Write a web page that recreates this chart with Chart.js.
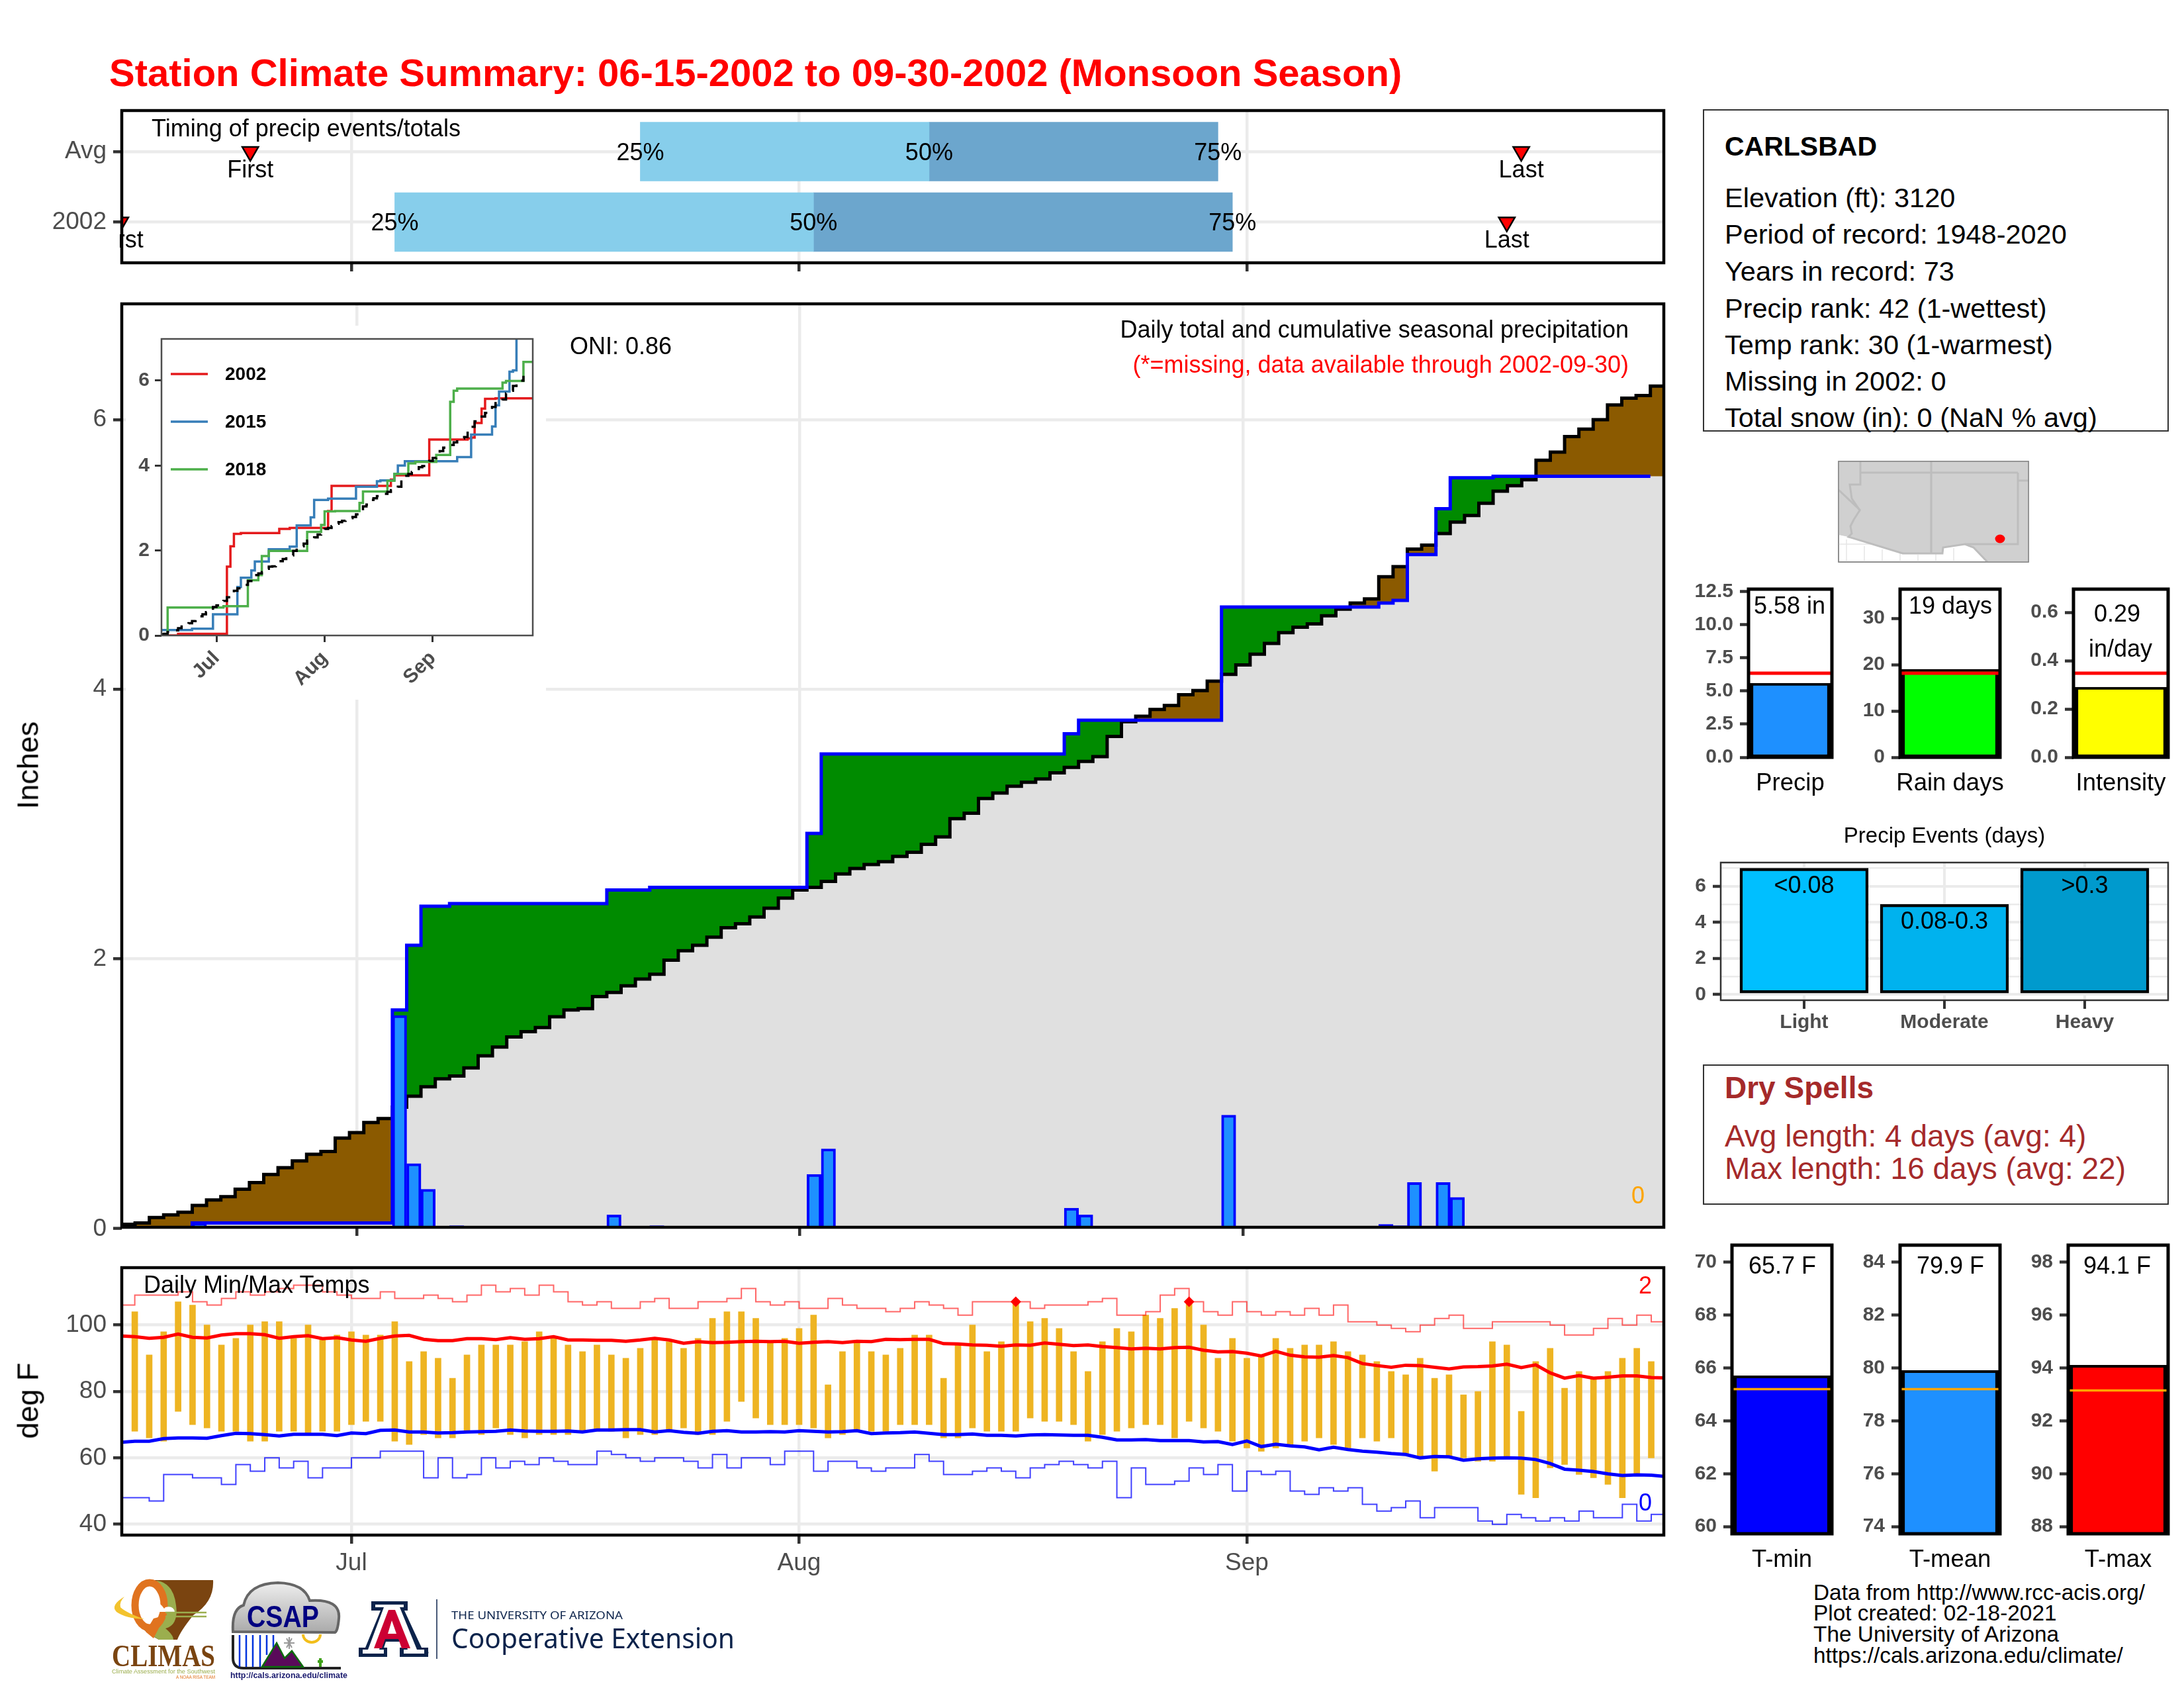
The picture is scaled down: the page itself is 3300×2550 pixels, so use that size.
<!DOCTYPE html>
<html><head><meta charset="utf-8">
<script src="https://cdn.jsdelivr.net/npm/chart.js@4"></script>
<style>
html,body{margin:0;padding:0;background:#fff;width:3300px;height:2550px;overflow:hidden}
#root{position:relative;width:3300px;height:2550px;font-family:"Liberation Sans",sans-serif}
canvas{position:absolute;display:block}
.t{position:absolute;white-space:nowrap;line-height:1}
.box{position:absolute;border:2.5px solid #333;box-sizing:border-box}
svg{position:absolute;left:0;top:0}
</style></head><body><div id="root"></div>
<script>
/* ---------- DATA ---------- */
const monthTicks=[16,47,78];
const monthLabels=['Jul','Aug','Sep'];
const climCum=[0.03,0.04,0.08,0.10,0.12,0.17,0.21,0.235,0.29,0.34,0.40,0.45,0.50,0.55,0.57,0.67,0.71,0.785,0.815,0.90,0.98,1.05,1.11,1.13,1.19,1.28,1.345,1.42,1.46,1.49,1.57,1.62,1.63,1.72,1.75,1.80,1.85,1.885,1.99,2.06,2.10,2.16,2.23,2.26,2.31,2.375,2.45,2.51,2.53,2.575,2.63,2.67,2.70,2.72,2.76,2.79,2.85,2.905,3.04,3.08,3.19,3.23,3.28,3.31,3.335,3.38,3.42,3.465,3.50,3.65,3.76,3.80,3.85,3.88,3.96,3.99,4.06,4.11,4.18,4.26,4.34,4.42,4.46,4.485,4.545,4.595,4.64,4.67,4.835,4.91,5.04,5.07,5.155,5.24,5.29,5.38,5.47,5.51,5.555,5.70,5.76,5.875,5.93,6.00,6.11,6.16,6.18,6.25];
const daily2002=[0,0,0,0,0,0.04,0,0,0,0,0,0,0,0,0,0,0,0,0,1.58,0.48,0.29,0,0.02,0,0,0,0,0,0,0,0,0,0,0.10,0,0,0.02,0,0,0,0,0,0,0,0,0,0,0.40,0.59,0,0,0,0,0,0,0,0,0,0,0,0,0,0,0,0,0.15,0.10,0,0,0,0,0,0,0,0,0,0.84,0,0,0,0,0,0,0,0,0,0,0.03,0.02,0.34,0,0.34,0.23,0,0,0.01,0,0,0,0,0,0,0,0,0,0,0];
const cum2015=[0.13,0.13,0.13,0.13,0.13,0.13,0.13,0.13,0.13,0.16,0.16,0.16,0.16,0.16,0.16,0.50,0.50,0.50,0.50,0.50,0.50,0.50,1.14,1.36,1.36,1.36,1.53,1.74,1.74,1.74,1.74,2.03,2.03,2.03,2.03,2.03,2.03,2.09,2.09,2.59,2.59,2.59,2.59,2.78,3.19,3.19,3.19,3.19,3.22,3.22,3.22,3.22,3.22,3.22,3.22,3.22,3.50,3.50,3.50,3.50,3.50,3.50,3.63,3.65,3.65,3.65,3.65,3.80,4.00,4.00,4.10,4.10,4.10,4.10,4.10,4.10,4.10,4.10,4.10,4.10,4.10,4.10,4.10,4.10,4.10,4.20,4.20,4.20,4.20,4.73,4.73,4.73,4.73,4.73,4.73,4.92,5.42,5.74,5.74,5.74,6.21,6.24,7.2,7.2,7.2,7.2,7.2,7.2];
const cum2018=[0.01,0.01,0.66,0.66,0.66,0.66,0.66,0.66,0.66,0.66,0.66,0.66,0.66,0.66,0.66,0.66,0.66,0.66,0.69,0.69,0.69,0.69,0.69,0.69,0.69,1.30,1.30,1.30,1.42,1.87,1.87,1.99,1.99,1.99,1.99,1.99,1.99,1.99,1.99,1.99,1.99,1.99,2.44,2.44,2.44,2.44,2.60,2.92,2.92,2.92,2.93,2.93,2.93,2.93,2.93,2.93,2.93,3.12,3.39,3.39,3.39,3.39,3.39,3.39,3.39,3.64,3.64,3.80,3.80,3.80,3.80,4.05,4.05,4.085,4.085,4.085,4.085,4.085,4.085,4.25,4.25,4.25,4.25,5.50,5.76,5.81,5.81,5.81,5.81,5.81,5.81,5.81,5.81,5.81,5.81,5.81,5.81,5.81,5.95,5.99,5.99,5.99,5.99,5.99,6.44,6.44,6.44,6.44];
const tHigh=[104,91,98,107,106,100,94,96,100,101,101,96,100,96,97,98,97,97,101,89,92,90,84,91,94,94,94,95,98,96,94,92,94,91,90,93,96,95,93,96,102,104,104,102,95,96,99,103,82,92,95,92,91,93,97,97,84,94,100,92,95,107,101,102,99,92,86,95,99,98,103,102,105,107,100,90,96,90,91,96,93,94,94,95,92,91,89,86,85,90,84,85,79,80,95,94,74,89,93,81,86,84,86,90,93,89];
const tLow=[68,66,65,74,70,69,68,68,65,65,68,68,67,68,68,70,71,71,65,64,67,66,66,68,67,69,67,66,67,67,67,68,68,68,66,67,67,68,69,67,67,71,77,72,70,70,70,69,66,67,68,68,68,70,70,70,66,66,69,68,68,68,72,71,71,70,65,67,68,69,70,70,66,71,69,68,65,63,62,63,64,65,66,64,63,66,65,66,61,60,56,60,60,59,59,60,49,48,57,58,55,54,52,48,55,60];
const avgMax=[96.7,96.5,96,96.3,97.3,96.3,96.1,97,97.4,97.4,97.1,96,96.5,96.8,95.9,96.2,95.5,95.1,96,96.7,96.9,95.7,95.3,95.3,95.9,95.9,95.6,96.2,95.7,95.9,96.5,95.5,95.5,95.4,95.4,95.1,95.5,96,95.5,94.5,95,94.7,94.8,95,95.1,95,95.1,94.5,94.8,95,94.7,95.1,95,95.7,95.6,95.7,95.7,94.4,94.3,94,93.9,93.6,94,93.9,94.6,94.2,93.8,94,93.5,93.2,92.8,93,92.8,93.2,93.3,92.4,91.9,92,91.5,90.7,92.1,90.9,90.4,90.3,90.8,90.2,88.4,87.8,87.3,87.9,87.8,87.3,86.8,87.4,87.5,87.7,88.2,87.2,88,85.6,84,84.8,84,84.3,84.7,84.7,84.2,84.1];
const avgMin=[64.7,65,65,65.8,66,66,65.9,66.7,67.4,67.3,67,66.6,67.1,67.1,67.1,66.7,67.5,67.3,68.3,68.4,67.8,67.8,67.5,67.6,67.8,67.9,68,68.4,68.1,68,68,68.1,67.8,68.4,68.4,68.5,68.5,67.8,68.2,67.7,67.4,68,68.2,67.8,67.8,67.9,67.8,68.2,68,67.8,67.9,68.2,67.3,67.5,67.6,67.8,67.4,67,67,67.2,66.8,66.8,66.6,66.9,67,66.9,66.8,66.8,66.2,65.4,65.4,65.5,65.2,65.2,65.2,64.8,64.9,64,65.1,63.4,64.1,63.6,63.3,62.4,63.2,62.5,62,61.7,61.3,61,60,60.4,60.3,59.3,59.7,59.9,60,59.9,59.5,58.3,56.6,56.3,55.9,55.2,54.7,54.9,54.8,54.4];
const recHigh=[106,109,109,109,110,107,106,108,110,109,110,111,112,112,110,109,108,108,110,108,108,109,108,107,109,112,110,111,109,112,110,107,106,107,105,105,107,108,105,105,107,107,108,111,107,106,107,105,105,108,106,105,105,104,105,107,106,105,103,107,107,107,107,105,106,106,106,107,108,103,103,104,109,111,107,104,103,107,104,103,104,103,105,103,106,101,101,100,99,98,100,102,103,99,99,101,101,101,101,100,97,97,99,102,100,103,101];
const recLow=[48,48,47,55,55,54,54,52,58,56,60,57,59,54,57,57,60,60,62,62,62,54,60,54,55,60,57,59,58,60,59,58,58,62,61,60,59,60,60,59,57,61,57,60,60,58,62,62,56,59,59,57,56,57,57,61,59,55,55,56,57,56,54,57,58,59,58,57,59,48,57,52,52,53,57,55,58,50,56,55,56,50,49,51,50,51,46,44,45,47,42,45,45,45,41,40,43,42,41,42,41,44,42,42,46,41,43];
const timingRows=['2002','Avg'];
const q25=[19,36], q50=[48,56], q75=[77,76];
const firstDay=[0,9], lastDay=[96,97];
const smallBars={
 precip:{label:'Precip',value:5.58,avg:6.34},
 rain:{label:'Rain days',value:19,avg:18.15},
 intensity:{label:'Intensity',value:0.29,avg:0.348},
 tmin:{label:'T-min',value:65.7,avg:65.2},
 tmean:{label:'T-mean',value:79.9,avg:79.2},
 tmax:{label:'T-max',value:94.1,avg:93.15}};
const eventCats=['Light','Moderate','Heavy'];
const eventVals=[7,5,7];
const eventTags=['<0.08','0.08-0.3','>0.3'];

/* ---------- HELPERS ---------- */
const FF='"Liberation Sans"';
Chart.defaults.font.family=FF;
Chart.defaults.animation=false;
const root=document.getElementById('root');
const INK='#4D4D4D', GRID='#EBEBEB', TICKSIZE=37;
function txt(s,x,y,o={}){const d=document.createElement('div');d.className='t';d.textContent=s;
 d.style.left=x+'px';d.style.top=(y+1)+'px';d.style.fontSize=(o.size||36)+'px';
 d.style.color=o.color||'#000';if(o.bold)d.style.fontWeight='bold';
 const tx=o.anchor==='middle'?'-50%':o.anchor==='end'?'-100%':'0';
 d.style.transform=`translate(${tx},-50%)`+(o.rot?` rotate(${o.rot}deg)`:'');
 root.appendChild(d);return d;}
function box(x0,y0,x1,y1){const d=document.createElement('div');d.className='box';
 d.style.cssText+=`left:${x0}px;top:${y0}px;width:${x1-x0}px;height:${y1-y0}px`;root.appendChild(d);}
function frame(w,c){return {id:'frame',afterDatasetsDraw(ch){const a=ch.chartArea,x=ch.ctx;x.save();x.lineWidth=w;x.strokeStyle=c;x.strokeRect(a.left,a.top,a.right-a.left,a.bottom-a.top);x.restore();}};}
function mk(p,M,cfg){const c=document.createElement('canvas');
 const W=p.x1-p.x0+M.l+M.r,H=p.y1-p.y0+M.t+M.b;c.width=W;c.height=H;
 c.style.left=(p.x0-M.l)+'px';c.style.top=(p.y0-M.t)+'px';c.style.width=W+'px';c.style.height=H+'px';root.appendChild(c);
 const o=cfg.options=cfg.options||{};o.responsive=false;o.devicePixelRatio=1;o.animation=false;
 o.layout={padding:{left:0,top:M.t,right:M.r,bottom:0}};
 o.plugins=Object.assign({legend:{display:false},tooltip:{enabled:false}},o.plugins||{});
 o.scales.x.afterFit=s=>{s.height=M.b};o.scales.y.afterFit=s=>{s.width=M.l};
 return new Chart(c,cfg);}
const setTicks=a=>s=>{s.ticks=a.map(v=>({value:v}))};
const monthAxis=(min,max,labelled)=>({type:'linear',min,max,offset:false,afterBuildTicks:setTicks(monthTicks),
 grid:{color:GRID,lineWidth:4.5,tickColor:'#333',tickWidth:4.5,tickLength:13,offset:false},border:{display:false},
 ticks:{autoSkip:false,maxRotation:0,minRotation:0,padding:8,color:INK,font:{size:TICKSIZE},callback:v=>labelled?monthLabels[monthTicks.indexOf(v)]:''}});
const pts=(a,dx=0)=>a.map((y,i)=>({x:i+dx,y})).concat([{x:a.length+dx,y:a[a.length-1]}]);
const cum2002=(()=>{let s=0;return daily2002.map(v=>+(s+=v).toFixed(3));})();
const lowerEnv=climCum.map((v,i)=>Math.min(v,cum2002[i]));

/* ---------- TEXT + BOXES ---------- */
txt('Station Climate Summary: 06-15-2002 to 09-30-2002 (Monsoon Season)',165,109,{size:58,bold:true,color:'#FF0000'});

/* ---------- TIMING PANEL ---------- */
mk({x0:184,y0:167,x1:2514,y1:397},{l:130,t:50,r:40,b:40},{type:'bar',data:{datasets:[
 {type:'line',showLine:false,data:firstDay.map((x,i)=>({x,y:i})),pointStyle:'triangle',rotation:180,radius:14,backgroundColor:'#FF0000',borderColor:'#000',borderWidth:2.5,order:1},
 {type:'line',showLine:false,data:lastDay.map((x,i)=>({x,y:i})),pointStyle:'triangle',rotation:180,radius:14,backgroundColor:'#FF0000',borderColor:'#000',borderWidth:2.5,order:1},
 {data:q25.map((v,i)=>({x:[v,q50[i]],y:i})),backgroundColor:'#87CEEB',barThickness:89,grouped:false,order:3},
 {data:q50.map((v,i)=>({x:[v,q75[i]],y:i})),backgroundColor:'#6CA6CD',barThickness:89,grouped:false,order:3}
]},options:{indexAxis:'y',scales:{
 x:monthAxis(0.1,106.87,false),
 y:{type:'linear',min:-0.577,max:1.582,offset:false,afterBuildTicks:setTicks([0,1]),grid:{color:GRID,lineWidth:4.5,tickColor:'#333',tickWidth:4.5,tickLength:13,offset:false},border:{display:false},
  ticks:{autoSkip:false,padding:10,color:INK,font:{size:TICKSIZE},callback:v=>timingRows[v]}}}},
 plugins:[{id:'lab',afterDatasetsDraw(ch){const c=ch.ctx,sx=ch.scales.x,sy=ch.scales.y,a=ch.chartArea;c.save();
   c.beginPath();c.rect(a.left-3,a.top,a.right-a.left+3,a.bottom-a.top);c.clip();
   c.font='36px '+FF;c.fillStyle='#000';c.textAlign='center';c.textBaseline='middle';
   timingRows.forEach((r,i)=>{const y=sy.getPixelForValue(i);
     [[q25,'25%'],[q50,'50%'],[q75,'75%']].forEach(([q,s])=>c.fillText(s,sx.getPixelForValue(q[i]),y+3));
     c.fillText('First',sx.getPixelForValue(firstDay[i]),y+29);c.fillText('Last',sx.getPixelForValue(lastDay[i]),y+29);});
   c.restore();}},frame(4.5,'#000')]});
txt('Timing of precip events/totals',229,193);

/* ---------- MAIN PRECIP PANEL ---------- */
const mainM={l:130,t:50,r:40,b:40};
mk({x0:184,y0:459,x1:2514,y1:1854},mainM,{type:'bar',data:{datasets:[
 {type:'line',data:pts(lowerEnv,-0.5),stepped:'before',fill:'origin',backgroundColor:'#E0E0E0',borderWidth:0,pointRadius:0,order:10},
 {type:'line',data:pts(climCum,-0.5),stepped:'before',fill:false,borderColor:'#000',borderWidth:5,pointRadius:0,order:4},
 {type:'line',data:pts(cum2002,-0.5),stepped:'before',fill:{target:1,above:'#008B00',below:'#8B5A00'},borderColor:'transparent',borderWidth:0,pointRadius:0,order:9},
 {type:'line',data:pts(cum2002.slice(0,107),-0.5),stepped:'before',fill:false,borderColor:'#0000FF',borderWidth:5,pointRadius:0,order:1},
 {data:daily2002.map((v,i)=>({x:i,y:v>0?v:null})),backgroundColor:'#1E90FF',borderColor:'#0000FF',borderWidth:4,borderSkipped:false,barThickness:21.6,grouped:false,order:2}
]},options:{plugins:{filler:{drawTime:'beforeDatasetsDraw'}},scales:{
 x:monthAxis(-0.43,107.44,false),
 y:{type:'linear',min:0.008,max:6.86,afterBuildTicks:setTicks([2,4,6]),grid:{color:GRID,lineWidth:4.5,tickColor:'#333',tickWidth:4.5,tickLength:13},border:{display:false},
  ticks:{autoSkip:false,padding:10,color:INK,font:{size:TICKSIZE},callback:v=>String(v)}}}},
 plugins:[{id:'wipe',beforeDatasetsDraw(ch){const c=ch.ctx;c.save();c.fillStyle='#fff';
   const ox=184-mainM.l,oy=459-mainM.t;c.fillRect(190-ox,492-oy,825-190,1057-492);c.restore();},
  afterDatasetsDraw(ch){const c=ch.ctx,y=ch.scales.y.getPixelForValue(0),l=ch.chartArea.left;c.save();
   c.strokeStyle='#333';c.lineWidth=4.5;c.beginPath();c.moveTo(l-13,y);c.lineTo(l,y);c.stroke();
   c.fillStyle=INK;c.font=TICKSIZE+'px '+FF;c.textAlign='right';c.textBaseline='middle';c.fillText('0',l-23,y+1);c.restore();}},frame(4.5,'#000')]});

/* ---------- INSET ---------- */
const insetLegend=[['2002','#E41A1C',565],['2015','#377EB8',637],['2018','#4DAF4A',709]];
const insetM={l:70,t:40,r:20,b:90};
mk({x0:244,y0:512,x1:805,y1:960},insetM,{type:'line',data:{datasets:[
 {label:'2002',data:pts(cum2002),stepped:'before',borderColor:'#E41A1C',borderWidth:3.5,pointRadius:0,order:4},
 {label:'2015',data:pts(cum2015),stepped:'before',borderColor:'#377EB8',borderWidth:3.5,pointRadius:0,order:3},
 {label:'2018',data:pts(cum2018),stepped:'before',borderColor:'#4DAF4A',borderWidth:3.5,pointRadius:0,order:2},
 {label:'avg',data:climCum.slice(0,105).map((y,i)=>({x:i,y})),stepped:'before',borderColor:'#000',borderWidth:3.5,borderDash:[16,13],pointRadius:0,order:1}
]},options:{scales:{
 x:{type:'linear',min:0.24,max:106.67,afterBuildTicks:setTicks(monthTicks),grid:{drawOnChartArea:false,tickColor:'#333',tickWidth:3,tickLength:10},border:{display:false},
  ticks:{autoSkip:false,minRotation:45,maxRotation:45,padding:7,color:INK,font:{size:30,weight:'bold'},callback:v=>monthLabels[monthTicks.indexOf(v)]}},
 y:{type:'linear',min:0,max:6.98,afterBuildTicks:setTicks([0,2,4,6]),grid:{drawOnChartArea:false,tickColor:'#333',tickWidth:3,tickLength:10},border:{display:false},
  ticks:{autoSkip:false,padding:8,color:INK,font:{size:30,weight:'bold'},callback:v=>String(v)}}}},
 plugins:[{id:'leg',afterDatasetsDraw(ch){const c=ch.ctx,ox=244-insetM.l,oy=512-insetM.t;c.save();
   insetLegend.forEach(([s,col,y])=>{c.strokeStyle=col;c.lineWidth=3.5;c.beginPath();c.moveTo(258-ox,y-oy);c.lineTo(314-ox,y-oy);c.stroke();
    c.fillStyle='#000';c.font='bold 28px '+FF;c.textBaseline='middle';c.fillText(s,340-ox,y-oy+1);});c.restore();}},frame(2.5,'#4D4D4D')]});
txt('ONI: 0.86',861,522);
txt('Daily total and cumulative seasonal precipitation',2461,497,{anchor:'end'});
txt('(*=missing, data available through 2002-09-30)',2461,550,{anchor:'end',color:'#FF0000'});
txt('0',2475,1805,{anchor:'middle',color:'#FFA500'});
txt('Inches',42,1155,{size:45,anchor:'middle',rot:-90});

/* ---------- TEMPERATURE PANEL ---------- */
const rec=tHigh.map((v,i)=>v>=recHigh[i+1]?{x:i+1,y:recHigh[i+1]}:null).filter(Boolean);
const thick=a=>a.map((y,i)=>({x:i,y}));
mk({x0:184,y0:1915,x1:2514,y1:2319},{l:130,t:50,r:40,b:70},{type:'bar',data:{datasets:[
 {type:'line',data:rec,showLine:false,pointStyle:'rectRot',radius:8,backgroundColor:'#FF0000',borderWidth:0,order:1},
 {type:'line',data:thick(avgMax),borderColor:'#FF0000',borderWidth:5,pointRadius:0,order:2},
 {type:'line',data:thick(avgMin),borderColor:'#0000FF',borderWidth:5,pointRadius:0,order:2},
 {type:'line',data:pts(recHigh),stepped:'before',borderColor:'rgba(255,0,0,0.6)',borderWidth:2,pointRadius:0,order:3},
 {type:'line',data:pts(recLow),stepped:'before',borderColor:'rgba(0,0,255,0.75)',borderWidth:2,pointRadius:0,order:3},
 {data:tHigh.map((v,i)=>({x:i+1,y:[tLow[i],v]})),backgroundColor:'#EEB422',barThickness:9,grouped:false,order:4}
]},options:{scales:{
 x:monthAxis(0.1,106.87,true),
 y:{type:'linear',min:36.75,max:117.28,afterBuildTicks:setTicks([40,60,80,100]),grid:{color:GRID,lineWidth:4.5,tickColor:'#333',tickWidth:4.5,tickLength:13},border:{display:false},
  ticks:{autoSkip:false,padding:10,color:INK,font:{size:TICKSIZE},callback:v=>String(v)}}}},
 plugins:[frame(4.5,'#000')]});
txt('Daily Min/Max Temps',217,1940);
txt('2',2486,1941,{anchor:'middle',color:'#FF0000'});
txt('0',2486,2269,{anchor:'middle',color:'#0000FF'});
txt('deg F',42,2115,{size:45,anchor:'middle',rot:-90});

/* ---------- SMALL SUMMARY BARS ---------- */
function small(b,p,min,max,ticks,fmt,fill,lineCol,lineW,tags){
 const w=p.x1-p.x0,ml=110,mt=40;
 mk(p,{l:ml,t:mt,r:70,b:70},{type:'bar',data:{datasets:[
  {type:'line',data:[{x:-0.5,y:b.avg},{x:0.5,y:b.avg}],borderColor:lineCol,borderWidth:lineW,pointRadius:0,order:1},
  {data:[{x:0,y:b.value}],backgroundColor:fill,borderColor:'#000',borderWidth:{left:6,right:6,top:4,bottom:4},borderSkipped:false,barThickness:w-3,order:2}
 ]},options:{scales:{
  x:{type:'linear',min:-0.5,max:0.5,offset:false,afterBuildTicks:setTicks([0]),grid:{display:false,drawTicks:false,offset:false},border:{display:false},
   ticks:{autoSkip:false,maxRotation:0,minRotation:0,padding:18,color:'#000',font:{size:36.5},callback:()=>b.label}},
  y:{type:'linear',min,max,afterBuildTicks:setTicks(ticks),grid:{drawOnChartArea:false,tickColor:'#333',tickWidth:4.5,tickLength:13},border:{display:false},
   ticks:{autoSkip:false,padding:10,color:INK,font:{size:30,weight:'bold'},callback:fmt}}}},
  plugins:[{id:'tag',afterDatasetsDraw(ch){const c=ch.ctx,ox=p.x0-ml,oy=p.y0-mt;c.save();c.font='36px '+FF;c.fillStyle='#000';c.textAlign='center';c.textBaseline='middle';
    tags.forEach(([s,x,y])=>c.fillText(s,x-ox,y-oy+2));c.restore();}},frame(5,'#000')]});
}
const f1=v=>v.toFixed(1), f0=v=>String(v);
small(smallBars.precip,{x0:2642,y0:890,x1:2768,y1:1144},0,12.67,[0,2.5,5,7.5,10,12.5],f1,'#1E90FF','#FF0000',5,[['5.58 in',2704,915]]);
small(smallBars.rain,{x0:2871,y0:890,x1:3022,y1:1144},0,36.3,[0,10,20,30],f0,'#00FF00','#FF0000',5,[['19 days',2947,915]]);
small(smallBars.intensity,{x0:3133,y0:890,x1:3276,y1:1144},0,0.696,[0,0.2,0.4,0.6],f1,'#FFFF00','#FF0000',5,[['0.29',3199,927],['in/day',3204,980]]);
small(smallBars.tmin,{x0:2617,y0:1881,x1:2768,y1:2317},59.73,70.64,[60,62,64,66,68,70],f0,'#0000FF','#FFA500',3.5,[['65.7 F',2693,1912]]);
small(smallBars.tmean,{x0:2871,y0:1881,x1:3022,y1:2317},73.73,84.64,[74,76,78,80,82,84],f0,'#1E90FF','#FFA500',3.5,[['79.9 F',2947,1912]]);
small(smallBars.tmax,{x0:3125,y0:1881,x1:3276,y1:2317},87.73,98.64,[88,90,92,94,96,98],f0,'#FF0000','#FFA500',3.5,[['94.1 F',3199,1912]]);

/* ---------- PRECIP EVENTS ---------- */
const evP={x0:2600,y0:1303,x1:3276,y1:1511},evM={l:80,t:40,r:10,b:50};
mk(evP,evM,{type:'bar',data:{datasets:[
 {data:eventVals.map((v,i)=>({x:i,y:v})),backgroundColor:['#00BFFF','#00B2EE','#009ACD'],borderColor:'#000',borderWidth:4.5,borderSkipped:false,barThickness:194}
]},options:{scales:{
 x:{type:'linear',min:-0.594,max:2.594,offset:false,afterBuildTicks:setTicks([0,1,2]),grid:{color:GRID,lineWidth:4,tickColor:'#333',tickWidth:4,tickLength:13,offset:false},border:{display:false},
  ticks:{autoSkip:false,maxRotation:0,minRotation:0,padding:3,color:INK,font:{size:30,weight:'bold'},callback:v=>eventCats[v]}},
 y:{type:'linear',min:-0.32,max:7.316,afterBuildTicks:setTicks([0,1,2,3,4,5,6,7]),
  grid:{color:GRID,lineWidth:c=>c.tick&&c.tick.value%2===0?4:2.5,tickColor:c=>c.tick&&c.tick.value%2===0?'#333':'transparent',tickWidth:4.5,tickLength:12},border:{display:false},
  ticks:{autoSkip:false,padding:10,color:INK,font:{size:30,weight:'bold'},callback:v=>v%2===0?String(v):''}}}},
 plugins:[{id:'ev',afterDatasetsDraw(ch){const c=ch.ctx,sx=ch.scales.x,sy=ch.scales.y;c.save();c.font='36px '+FF;c.fillStyle='#000';c.textAlign='center';c.textBaseline='middle';
   eventTags.forEach((s,i)=>c.fillText(s,sx.getPixelForValue(i),sy.getPixelForValue(eventVals[i]-1)));c.restore();}},frame(2.5,'#333')]});
txt('Precip Events (days)',2938,1260,{size:33,anchor:'middle'});

/* ---------- INFO BOXES ---------- */
box(2573,165,3277,652);
txt('CARLSBAD',2606,220,{size:41,bold:true});
[['Elevation (ft): 3120',298],['Period of record: 1948-2020',353],['Years in record: 73',409],['Precip rank: 42 (1-wettest)',465],['Temp rank: 30 (1-warmest)',520],['Missing in 2002: 0',575],['Total snow (in): 0 (NaN % avg)',630]]
 .forEach(([s,y])=>txt(s,2606,y,{size:41.5}));
box(2573,1608,3277,1820);
txt('Dry Spells',2606,1642,{size:46,bold:true,color:'#A52A2A'});
txt('Avg length: 4 days (avg: 4)',2606,1715,{size:46,color:'#A52A2A'});
txt('Max length: 16 days (avg: 22)',2606,1764,{size:46,color:'#A52A2A'});
[['Data from http://www.rcc-acis.org/',2405],['Plot created: 02-18-2021',2436],['The University of Arizona',2468],['https://cals.arizona.edu/climate/',2500]]
 .forEach(([s,y])=>txt(s,2740,y,{size:33.4}));

/* ---------- MAP + LOGOS (decorative, not data) ---------- */
const NS='http://www.w3.org/2000/svg';
const holder=document.createElement('div');
holder.innerHTML=`<svg xmlns="${NS}" width="3300" height="2550" viewBox="0 0 3300 2550" style="pointer-events:none">
<g>
<rect x="2778" y="697" width="287" height="152" fill="#fff" stroke="#888" stroke-width="1.5"/>
<g stroke="#e6e6e6" stroke-width="1.5"><line x1="2778" y1="822" x2="2980" y2="822"/><line x1="2790" y1="815" x2="2790" y2="849"/><line x1="2817" y1="825" x2="2817" y2="849"/><line x1="2844" y1="830" x2="2844" y2="849"/><line x1="2871" y1="835" x2="2871" y2="849"/><line x1="2898" y1="838" x2="2898" y2="849"/><line x1="2925" y1="835" x2="2925" y2="849"/><line x1="2952" y1="828" x2="2952" y2="849"/></g>
<polygon points="2778,697 3065,697 3065,849 3003,849 2982,827 2969,822 2936,827 2935,836 2875,836 2793,811 2778,808" fill="#D0D0D0"/>
<g fill="none" stroke="#BDBDBD" stroke-width="3">
<polyline points="2811,697 2811,732 2795,732 2798,753 2810,771 2801,785 2796,795 2798,806 2793,811 2875,836 2935,836 2936,827 2969,822 2982,827 3003,849"/>
<polyline points="2778,740 2811,771"/><polyline points="2918,697 2918,836"/><polyline points="2811,714 3049,714"/><polyline points="3049,714 3049,822 2969,822"/><polyline points="3049,726 3065,726"/>
</g>
<ellipse cx="3022" cy="814" rx="7.5" ry="6.5" fill="#FF0000"/>
<rect x="2778" y="697" width="287" height="152" fill="none" stroke="#888" stroke-width="1.5"/>
</g>
<g>
<path d="M232,2387 H322 Q324,2420 292,2440 Q272,2465 268,2477 H240 Q196,2455 202,2420 Q206,2395 232,2387Z" fill="#7A4410"/>
<path d="M238,2388 Q262,2392 266,2425 Q270,2455 250,2460 Q262,2470 262,2477 H240 Q192,2450 204,2412 Q212,2392 238,2388Z" fill="#9BAE4E"/>
<ellipse cx="226" cy="2425" rx="22" ry="34" fill="#fff" stroke="#E0731F" stroke-width="11"/>
<path d="M188,2412 Q166,2425 176,2435 Q190,2445 218,2446 Q190,2436 182,2428 Q180,2420 188,2412Z" fill="#F3C32E"/>
<path d="M232,2445 L250,2440 L232,2475 L220,2465Z" fill="#E0731F"/>
<path d="M248,2430 Q240,2418 232,2422 Q224,2416 222,2435 H264 Q262,2425 250,2428Z" fill="#fff"/>
<path d="M250,2436 H312 M250,2442 H312" stroke="#9BAE4E" stroke-width="2.5"/>
<text x="169" y="2517" font-family="Liberation Serif" font-weight="bold" font-size="46" fill="#7A4410" textLength="156" lengthAdjust="spacingAndGlyphs">CLIMAS</text>
<text x="169" y="2528" font-family="Liberation Sans" font-size="9" fill="#9BAE4E" textLength="156" lengthAdjust="spacingAndGlyphs">Climate Assessment for the Southwest</text>
<text x="266" y="2536" font-family="Liberation Sans" font-size="7" fill="#E0731F" textLength="59" lengthAdjust="spacingAndGlyphs">A NOAA RISA TEAM</text>
</g>
<g>
<defs><linearGradient id="cg" x1="0" y1="0" x2="0" y2="1"><stop offset="0" stop-color="#eee"/><stop offset="1" stop-color="#aaa"/></linearGradient></defs>
<path d="M352,2465 Q350,2430 368,2425 Q375,2392 420,2391 Q460,2392 468,2418 Q515,2415 512,2445 Q510,2467 505,2466 Z" fill="url(#cg)" stroke="#666" stroke-width="4"/>
<text x="373" y="2458" font-family="Liberation Sans" font-weight="bold" font-size="46" fill="#000080" textLength="109" lengthAdjust="spacingAndGlyphs">CSAP</text>
<path d="M352,2470 V2505 Q352,2520 368,2520 H515" fill="none" stroke="#222" stroke-width="4"/>
<path d="M362,2470 V2518 M372,2470 V2518 M382,2470 V2518 M393,2470 V2518 M403,2470 V2500 M413,2470 V2492" stroke="#0033DD" stroke-width="2.5"/>
<polygon points="396,2518 418,2482 430,2505 441,2494 458,2518" fill="#5A0A5A" stroke="#0B6B0B" stroke-width="2.5"/>
<path d="M433,2475 l8,14 M441,2475 l-8,14 M437,2473 v18 M429,2482 h16" stroke="#999" stroke-width="2"/>
<path d="M458,2469 a13,12 0 0 0 26,0" fill="none" stroke="#F2BE1A" stroke-width="4"/>
<path d="M484,2505 V2518 M480,2510 H488" stroke="#3FA018" stroke-width="4"/>
<text x="348" y="2535" font-family="Liberation Sans" font-weight="bold" font-size="12" fill="#1A1A6E" textLength="177" lengthAdjust="spacingAndGlyphs">http://cals.arizona.edu/climate</text>
</g>
<g>
<path d="M561,2419 H616 V2433 H611 L637,2489 H647 V2503 H604 V2489 H609 L606,2480 H583 L580,2489 H585 V2503 H542 V2489 H552 L575,2433 H561Z" fill="#0C234B"/>
<path d="M567,2424 H610 V2428 H604 L630,2492 H641 V2498 H610 V2492 H616 L610,2474 H578 L573,2492 H580 V2498 H548 V2492 H556 L580,2428 H567Z" fill="#fff"/>
<path d="M587,2432 H597 L620,2490 H607 L602,2476 H582 L577,2490 H565Z M592,2448 L586,2468 H599Z" fill="#CC0033" fill-rule="evenodd"/>
<text x="641" y="2500" font-family="Liberation Sans" font-size="9" fill="#0C234B">®</text>
<line x1="660" y1="2416" x2="660" y2="2506" stroke="#0C234B" stroke-width="1.5"/>
<text x="682" y="2446" font-family="Noto Sans" font-size="17" fill="#0C234B" textLength="259" lengthAdjust="spacingAndGlyphs">THE UNIVERSITY OF ARIZONA</text>
<text x="682" y="2490" font-family="Noto Sans" font-size="41" fill="#0C234B" textLength="428" lengthAdjust="spacingAndGlyphs">Cooperative Extension</text>
</g>
</svg>`;
root.appendChild(holder.firstChild);
</script></body></html>
